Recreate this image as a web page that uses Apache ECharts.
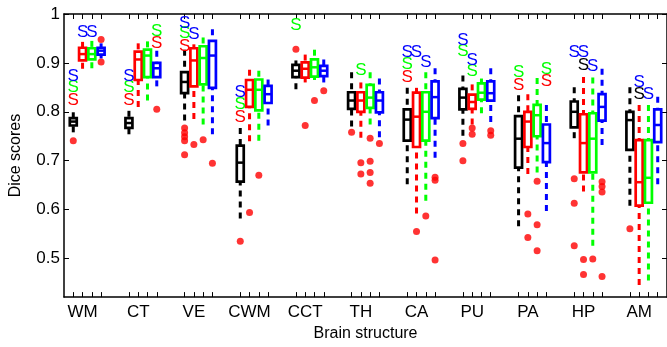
<!DOCTYPE html>
<html><head><meta charset="utf-8">
<script src="https://cdn.jsdelivr.net/npm/echarts@6/dist/echarts.min.js"></script>
<style>html,body{margin:0;padding:0;background:#fff}#c{width:667px;height:347px}</style>
</head><body><div id="c"></div>
<script>
// Categories (brain structures)
const categories = ['WM','CT','VE','CWM','CCT','TH','CA','PU','PA','HP','AM'];
const yTicks = [0.5, 0.6, 0.7, 0.8, 0.9, 1];

// Box stats per method: [lowerWhisker, Q1, median, Q3, upperWhisker]
const blackBox = [
  [0.758,0.772,0.780,0.787,0.799],[0.754,0.767,0.777,0.787,0.802],[0.782,0.838,0.861,0.881,0.927],
  [0.582,0.657,0.696,0.731,0.767],[0.846,0.871,0.884,0.896,0.905],[0.770,0.806,0.823,0.840,0.881],
  [0.652,0.741,0.784,0.805,0.849],[0.751,0.805,0.829,0.847,0.874],[0.566,0.686,0.745,0.791,0.834],
  [0.746,0.768,0.800,0.821,0.850],[0.608,0.722,0.783,0.800,0.850]];
const redBox = [
  [0.888,0.905,0.918,0.931,0.943],[0.810,0.865,0.907,0.923,0.940],[0.785,0.852,0.905,0.930,0.938],
  [0.740,0.810,0.845,0.865,0.886],[0.860,0.870,0.888,0.901,0.917],[0.747,0.800,0.823,0.840,0.860],
  [0.592,0.728,0.790,0.839,0.849],[0.774,0.806,0.820,0.835,0.856],[0.673,0.728,0.780,0.800,0.836],
  [0.637,0.676,0.736,0.795,0.871],[0.446,0.608,0.656,0.742,0.814]];
const greenBox = [
  [0.889,0.907,0.918,0.930,0.945],[0.823,0.871,0.915,0.927,0.944],[0.774,0.856,0.910,0.934,0.952],
  [0.741,0.803,0.845,0.866,0.884],[0.865,0.872,0.891,0.907,0.927],[0.774,0.808,0.829,0.855,0.881],
  [0.618,0.741,0.800,0.840,0.881],[0.797,0.825,0.839,0.858,0.868],[0.676,0.750,0.793,0.814,0.869],
  [0.526,0.676,0.745,0.797,0.870],[0.455,0.614,0.665,0.742,0.814]];
const blueBox = [
  [0.909,0.917,0.925,0.931,0.940],[0.852,0.871,0.889,0.900,0.925],[0.754,0.849,0.915,0.945,0.969],
  [0.772,0.818,0.836,0.853,0.866],[0.860,0.873,0.884,0.894,0.907],[0.748,0.799,0.823,0.840,0.868],
  [0.706,0.787,0.830,0.862,0.889],[0.779,0.823,0.838,0.862,0.889],[0.597,0.697,0.736,0.774,0.814],
  [0.732,0.782,0.810,0.836,0.888],[0.652,0.738,0.773,0.805,0.831]];

// Outliers per method, per category
const blackOut = [[0.741],[],[0.767,0.757,0.749,0.741,0.712],[0.535],[0.928],[0.758],[],[0.735,0.700],[],[0.663,0.613,0.526],[0.561]];
const redOut = [[],[],[0.733],[0.594],[0.772],[0.696,0.673],[0.555],[0.767,0.754],[0.591,0.543],[0.498,0.467],[]];
const greenOut = [[],[],[0.743],[0.670],[0.823],[0.746,0.699,0.676,0.654],[0.587],[],[0.658,0.569,0.516],[0.499],[]];
const blueOut = [[0.948,0.902],[0.805],[0.695],[],[0.843],[0.735],[0.666,0.660,0.497],[0.761,0.752],[],[0.657,0.647,0.636,0.463],[]];

// Significance marks: [categoryIndex, methodIndex, value, colorKey]
const sigMarks = [
  [0,0,0.823,'r'],[0,0,0.850,'g'],[0,0,0.872,'b'],[0,1,0.962,'b'],[0,2,0.962,'b'],
  [1,0,0.824,'r'],[1,0,0.850,'g'],[1,0,0.873,'b'],[1,3,0.940,'r'],[1,3,0.964,'g'],
  [2,0,0.934,'r'],[2,0,0.960,'g'],[2,0,0.980,'b'],[2,1,0.958,'b'],
  [3,0,0.789,'r'],[3,0,0.815,'g'],[3,0,0.840,'b'],
  [4,0,0.977,'g'],
  [5,1,0.884,'g'],
  [6,0,0.871,'r'],[6,0,0.897,'g'],[6,0,0.922,'b'],[6,1,0.922,'b'],[6,2,0.902,'b'],
  [7,0,0.923,'g'],[7,0,0.947,'b'],[7,1,0.882,'g'],[7,1,0.906,'b'],
  [8,0,0.854,'r'],[8,0,0.880,'g'],[8,3,0.862,'r'],[8,3,0.887,'g'],
  [9,0,0.922,'b'],[9,1,0.895,'k'],[9,1,0.922,'b'],[9,2,0.893,'b'],
  [10,1,0.836,'k'],[10,1,0.861,'b'],[10,2,0.836,'b']
];

const colors = {k:'#000000', r:'#ff0000', g:'#00ff00', b:'#0000ff'};
const methodColors = [colors.k, colors.r, colors.g, colors.b];
const boxes = [blackBox, redBox, greenBox, blueBox];
const outs = [blackOut, redOut, greenOut, blueOut];
const SLOTS = 6;
const pos = (ci, mi) => ci * SLOTS + mi + 1;
const FONT = '"Liberation Sans", Arial, Helvetica, sans-serif';

const tickPositions = [];
categories.forEach((c, ci) => { for (let m = 0; m < 4; m++) tickPositions.push(pos(ci, m)); });
const labelPositions = categories.map((c, ci) => pos(ci, 1));

function boxRenderer(color) {
  return function (params, api) {
    const x = api.value(0);
    const pWl = api.coord([x, api.value(1)]);
    const pQ1 = api.coord([x, api.value(2)]);
    const pMed = api.coord([x, api.value(3)]);
    const pQ3 = api.coord([x, api.value(4)]);
    const pWh = api.coord([x, api.value(5)]);
    const half = api.size([0.75, 0])[0] / 2;
    const dash = { stroke: color, lineWidth: 3, lineDash: [6, 5], fill: null };
    return { type: 'group', children: [
      { type: 'line', shape: { x1: pWh[0], y1: pWh[1], x2: pQ3[0], y2: pQ3[1] }, style: dash },
      { type: 'line', shape: { x1: pWl[0], y1: pWl[1], x2: pQ1[0], y2: pQ1[1] }, style: dash },
      { type: 'rect', shape: { x: pQ3[0] - half, y: pQ3[1], width: half * 2, height: pQ1[1] - pQ3[1] },
        style: { stroke: color, fill: null, lineWidth: 2.7 } },
      { type: 'line', shape: { x1: pMed[0] - half, y1: pMed[1], x2: pMed[0] + half, y2: pMed[1] },
        style: { stroke: color, lineWidth: 2.5 } }
    ]};
  };
}

const series = [];
boxes.forEach((b, mi) => {
  series.push({
    type: 'custom', name: 'm' + mi, renderItem: boxRenderer(methodColors[mi]),
    encode: { x: 0, y: [1, 2, 3, 4, 5] }, clip: false, silent: true,
    data: b.map((s, ci) => [pos(ci, mi)].concat(s))
  });
});
const outData = [];
outs.forEach((o, mi) => o.forEach((vals, ci) => vals.forEach(v => outData.push([pos(ci, mi), v]))));
series.push({ type: 'scatter', symbol: 'circle', symbolSize: 7, silent: true,
  itemStyle: { color: '#ff0000' }, data: outData, z: 3 });
series.push({
  type: 'custom', silent: true, clip: false, z: 4,
  encode: { x: 0, y: 1 },
  data: sigMarks.map(s => [pos(s[0], s[1]), s[2], s[3]]),
  renderItem: function (params, api) {
    const p = api.coord([api.value(0), api.value(1)]);
    const key = sigMarks[params.dataIndex][3];
    return { type: 'text', x: p[0], y: p[1],
      style: { text: 'S', fill: colors[key], font: '17px ' + FONT, align: 'center', verticalAlign: 'middle' } };
  }
});

const axisLine = { show: true, onZero: false, lineStyle: { color: '#000', width: 1.5 } };
const xBase = {
  type: 'value', min: 0, max: 65, splitLine: { show: false }, axisLine: axisLine,
  axisTick: { show: true, inside: true, length: 5, customValues: tickPositions, lineStyle: { color: '#000', width: 1 } }
};
const yBase = {
  type: 'value', min: 0.421, max: 1, splitLine: { show: false }, axisLine: axisLine,
  axisTick: { show: true, inside: true, length: 5, customValues: yTicks, lineStyle: { color: '#000', width: 1 } }
};

const chart = echarts.init(document.getElementById('c'), null, { renderer: 'canvas' });
chart.setOption({
  animation: false,
  backgroundColor: '#fff',
  grid: { left: 58.3, top: 14, width: 610.4, height: 297 },
  xAxis: [
    Object.assign({}, xBase, { position: 'bottom', name: 'Brain structure', nameLocation: 'middle', nameGap: 25,
      nameTextStyle: { color: '#000', fontSize: 16, fontFamily: FONT },
      axisLabel: { show: true, customValues: labelPositions, margin: 7, color: '#000', fontSize: 17, fontFamily: FONT,
        formatter: v => categories[Math.round((v - 2) / SLOTS)] } }),
    Object.assign({}, xBase, { position: 'top', axisLabel: { show: false } })
  ],
  yAxis: [
    Object.assign({}, yBase, { position: 'left', name: 'Dice scores', nameLocation: 'middle', nameGap: 40,
      nameTextStyle: { color: '#000', fontSize: 16, fontFamily: FONT },
      axisLabel: { show: true, customValues: yTicks, margin: 4, color: '#000', fontSize: 17, fontFamily: FONT,
        formatter: v => String(Math.round(v * 10) / 10) } }),
    Object.assign({}, yBase, { position: 'right', axisLabel: { show: false } })
  ],
  series: series
});
</script></body></html>
